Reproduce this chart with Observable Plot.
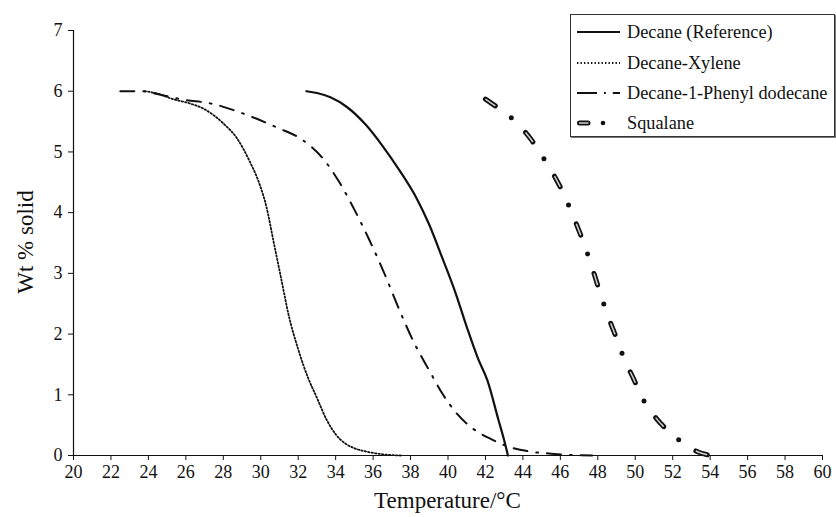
<!DOCTYPE html>
<html>
<head>
<meta charset="utf-8">
<script src="https://cdn.jsdelivr.net/npm/d3@7"></script>
<script src="https://cdn.jsdelivr.net/npm/@observablehq/plot@0.6"></script>
<style>
  body { margin: 0; background: #fff; }
  #wrap { position: relative; width: 836px; height: 517px; font-family: "Liberation Serif", "Times New Roman", serif; color: #111; }
  #wrap svg { font-family: "Liberation Serif", "Times New Roman", serif; }
  .title { position: absolute; font-size: 23px; white-space: nowrap; line-height: 1; }
  #xtitle { left: 447.5px; top: 500px; transform: translate(-50%, -50%); }
  #ytitle { left: 25px; top: 242px; transform: translate(-50%, -50%) rotate(-90deg); }
  #legend { position: absolute; left: 570px; top: 14px; width: 265px; height: 123px; border: 1px solid #333; background: #fff; box-sizing: border-box; box-shadow: 1px 1px 0 #777; }
  .row { position: absolute; left: 6px; height: 22px; display: flex; align-items: center; font-size: 18.3px; color: #111; white-space: nowrap; }
  .row svg { margin-right: 6px; }
</style>
</head>
<body>
<div id="wrap"></div>
<script>
// Series data (Temperature °C, Wt % solid)
const decaneT = [32.44,33.0,33.72,34.6,35.6,36.5,37.4,38.3,39.0,39.7,40.4,41.0,41.6,42.1,42.7,43.0,43.2];
const decaneW = [6.0,5.97,5.9,5.74,5.45,5.1,4.7,4.25,3.8,3.25,2.68,2.12,1.6,1.24,0.58,0.25,0.0];

const xyleneT = [23.8,24.5,25.3,26.2,26.95,28.0,28.74,29.4,29.9,30.3,30.7,31.1,31.5,32.0,32.5,33.0,33.5,34.0,34.5,35.0,35.7,36.5,37.5];
const xyleneW = [6.0,5.96,5.87,5.8,5.71,5.47,5.22,4.85,4.5,4.1,3.5,2.9,2.3,1.75,1.3,0.95,0.6,0.35,0.2,0.12,0.06,0.02,0.0];

const phenylT = [22.5,23.6,24.8,25.87,27.3,29.08,30.88,32.12,33.3,34.2,35.0,35.8,36.6,37.4,38.2,39.0,39.74,40.5,41.3,42.3,43.3,44.5,45.5,46.5,47.7];
const phenylW = [6.0,6.0,5.93,5.86,5.8,5.63,5.4,5.22,4.9,4.5,4.05,3.55,3.0,2.4,1.85,1.4,1.0,0.68,0.45,0.27,0.14,0.06,0.03,0.01,0.0];

const squalaneT = [42.0,42.7,43.5,44.4,45.2,46.0,46.5,47.0,47.5,48.0,48.4,49.0,49.4,49.9,50.5,51.1,51.7,52.4,53.2,54.0];
const squalaneW = [5.87,5.72,5.53,5.22,4.85,4.42,4.08,3.7,3.28,2.8,2.42,1.93,1.6,1.27,0.88,0.62,0.42,0.24,0.08,0.0];

const seriesNames = ["Decane (Reference)", "Decane-Xylene", "Decane-1-Phenyl dodecane", "Squalane"];
const xTicks = d3.range(20, 61, 2);
const yTicks = d3.range(0, 8, 1);
const xLabel = "Temperature/°C";
const yLabel = "Wt % solid";

const toRows = (T, W) => T.map((t, i) => ({t, w: W[i]}));
const decane = toRows(decaneT, decaneW);
const xylene = toRows(xyleneT, xyleneW);
const phenyl = toRows(phenylT, phenylW);
const squalane = toRows(squalaneT, squalaneW);

const curve = "monotone-x";
const chart = Plot.plot({
  width: 836,
  height: 517,
  marginLeft: 73,
  marginRight: 14,
  marginTop: 30,
  marginBottom: 62,
  x: {domain: [20, 60]},
  y: {domain: [0, 7]},
  style: {fontSize: "18px", color: "#111", background: "transparent"},
  marks: [
    Plot.axisX({ticks: xTicks, tickSize: 5, tickPadding: 5, tickFormat: d => d, label: null, fontSize: 18}),
    Plot.axisY({ticks: yTicks, tickSize: 5, tickPadding: 6, tickFormat: d => d, label: null, fontSize: 18}),
    Plot.ruleY([0], {stroke: "#111", strokeWidth: 1.2}),
    Plot.ruleX([20], {y1: 0, y2: 7, stroke: "#111", strokeWidth: 1.2}),
    Plot.line(xylene, {x: "t", y: "w", curve, stroke: "#111", strokeWidth: 1.8, strokeDasharray: "1.4,2.1"}),
    Plot.line(phenyl, {x: "t", y: "w", curve, stroke: "#111", strokeWidth: 2, strokeDasharray: "14,9,1.8,9"}),
    Plot.line(decane, {x: "t", y: "w", curve, stroke: "#111", strokeWidth: 2.2}),
    Plot.line(squalane, {x: "t", y: "w", curve, stroke: "#111", strokeWidth: 5, strokeLinecap: "round", strokeDasharray: "12,20,0,20.5"}),
    Plot.line(squalane, {x: "t", y: "w", curve, stroke: "#d0d0d0", strokeWidth: 1.5, strokeLinecap: "butt", strokeDasharray: "12,40.5"})
  ]
});
const wrap = document.getElementById("wrap");
wrap.appendChild(chart);

// Axis titles
const xt = document.createElement("div");
xt.className = "title"; xt.id = "xtitle"; xt.textContent = xLabel;
wrap.appendChild(xt);
const yt = document.createElement("div");
yt.className = "title"; yt.id = "ytitle"; yt.textContent = yLabel;
wrap.appendChild(yt);

// Legend (HTML overlay, top right inside the plot)
const legend = document.createElement("div");
legend.id = "legend";
const samples = [
  `<line x1="0" y1="5" x2="43" y2="5" stroke="#111" stroke-width="2.2"/>`,
  `<line x1="0" y1="5" x2="43" y2="5" stroke="#111" stroke-width="1.8" stroke-dasharray="1.4,2.1"/>`,
  `<line x1="0" y1="5" x2="43" y2="5" stroke="#111" stroke-width="2" stroke-dasharray="20,7,1.8,7"/>`,
  `<line x1="2.5" y1="5" x2="11" y2="5" stroke="#111" stroke-width="5" stroke-linecap="round"/><line x1="2" y1="5" x2="11.5" y2="5" stroke="#d0d0d0" stroke-width="1.5"/><circle cx="26" cy="5" r="2.3" fill="#111"/>`
];
const rowTops = [6, 37, 67, 97];
seriesNames.forEach((name, i) => {
  const r = document.createElement("div");
  r.className = "row";
  r.style.top = rowTops[i] + "px";
  r.innerHTML = `<svg width="44" height="10">${samples[i]}</svg><span>${name}</span>`;
  legend.appendChild(r);
});
wrap.appendChild(legend);
</script>
</body>
</html>
